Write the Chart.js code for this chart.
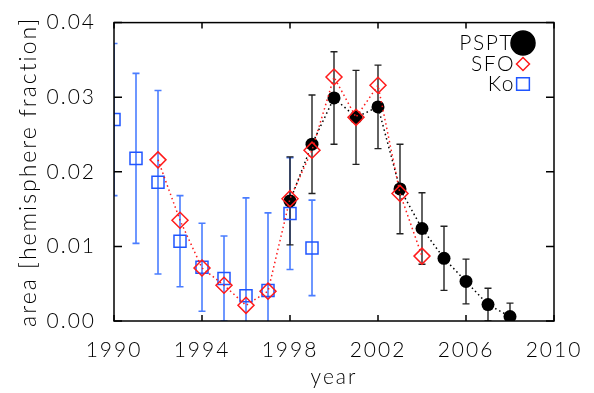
<!DOCTYPE html>
<html>
<head>
<meta charset="utf-8">
<script src="https://cdn.jsdelivr.net/npm/chart.js@4/dist/chart.umd.min.js"></script>
<style>
  html, body { margin: 0; padding: 0; background: #fff; }
  #wrap { width: 594px; height: 393px; }
</style>
</head>
<body>
<div id="wrap"><canvas id="chart" width="594" height="393"></canvas></div>
<script>
// Data
const psptYears = [1998, 1999, 2000, 2001, 2002, 2003, 2004, 2005, 2006, 2007, 2008];
const psptArea = [0.0161, 0.0237, 0.0299, 0.0273, 0.0287, 0.0177, 0.0124, 0.0084, 0.0053, 0.0022, 0.0006];
const psptErr = [0.0059, 0.0066, 0.0062, 0.0063, 0.0056, 0.0060, 0.0048, 0.0043, 0.0030, 0.0022, 0.0018];

const sfoYears = [1992, 1993, 1994, 1995, 1996, 1997, 1998, 1999, 2000, 2001, 2002, 2003, 2004];
const sfoArea = [0.0216, 0.0135, 0.0071, 0.0048, 0.0021, 0.0040, 0.0164, 0.0229, 0.0327, 0.0273, 0.0316, 0.0171, 0.0087];

const koYears = [1990, 1991, 1992, 1993, 1994, 1995, 1996, 1997, 1998, 1999];
const koArea = [0.0270, 0.0218, 0.0186, 0.0107, 0.0072, 0.0057, 0.0034, 0.0041, 0.0144, 0.0098];
const koErr = [0.0102, 0.0114, 0.0123, 0.0061, 0.0059, 0.0057, 0.0131, 0.0104, 0.0075, 0.0064];

const xTicks = [1990, 1994, 1998, 2002, 2006, 2010];
const yTicks = [0.00, 0.01, 0.02, 0.03, 0.04];

const FONT = "Lato, 'DejaVu Sans', sans-serif";
const BLUE = "#1f55ff";
const BLUE_ERR = "#4a7dff";
const RED = "#ff1a1a";

function pts(xs, ys) {
  return xs.map((x, i) => ({ x: x, y: ys[i] }));
}

// wide, airy lettering like the original
const spacing = {
  id: "spacing",
  beforeDraw(chart) {
    chart.ctx.letterSpacing = "2px";
  }
};

// error bars, drawn through the scales
const errorBars = {
  id: "errorBars",
  beforeDatasetsDraw(chart) {
    const { ctx, chartArea, scales: { x, y } } = chart;
    ctx.save();
    ctx.beginPath();
    ctx.rect(chartArea.left, chartArea.top - 1, chartArea.right - chartArea.left, chartArea.bottom - chartArea.top + 1);
    ctx.clip();
    const sets = [
      { xs: koYears, ys: koArea, es: koErr, color: BLUE_ERR, w: 1.6 },
      { xs: psptYears, ys: psptArea, es: psptErr, color: "#222", w: 1.4 }
    ];
    sets.forEach(s => {
      ctx.strokeStyle = s.color;
      ctx.lineWidth = s.w;
      s.xs.forEach((yr, i) => {
        const px = x.getPixelForValue(yr);
        const top = y.getPixelForValue(s.ys[i] + s.es[i]);
        const bot = y.getPixelForValue(s.ys[i] - s.es[i]);
        ctx.beginPath();
        ctx.moveTo(px, top); ctx.lineTo(px, bot);
        ctx.moveTo(px - 3.5, top); ctx.lineTo(px + 3.5, top);
        ctx.moveTo(px - 3.5, bot); ctx.lineTo(px + 3.5, bot);
        ctx.stroke();
      });
    });
    ctx.restore();
  }
};

// frame with inward ticks on all four sides, plus the legend
const frame = {
  id: "frame",
  afterDraw(chart) {
    const { ctx, chartArea: a, scales: { x, y } } = chart;
    ctx.save();
    ctx.strokeStyle = "#000";
    ctx.lineWidth = 1.5;
    ctx.strokeRect(a.left, a.top, a.right - a.left, a.bottom - a.top);
    ctx.beginPath();
    xTicks.forEach(t => {
      const px = x.getPixelForValue(t);
      ctx.moveTo(px, a.bottom); ctx.lineTo(px, a.bottom - 6);
      ctx.moveTo(px, a.top); ctx.lineTo(px, a.top + 6);
    });
    yTicks.forEach(t => {
      const py = y.getPixelForValue(t);
      ctx.moveTo(a.left, py); ctx.lineTo(a.left + 8, py);
      ctx.moveTo(a.right, py); ctx.lineTo(a.right - 8, py);
    });
    ctx.stroke();

    // legend
    const lx = 523;
    const rows = [
      { label: "PSPT", y: 43, style: "circle", r: 12, fill: "#000", stroke: "#000" },
      { label: "SFO", y: 64, style: "rectRot", r: 6.5, fill: "rgba(0,0,0,0)", stroke: RED },
      { label: "Ko", y: 84, style: "rect", r: 9, fill: "rgba(0,0,0,0)", stroke: BLUE }
    ];
    ctx.font = "300 21px " + FONT;
    ctx.letterSpacing = "1.5px";
    ctx.textAlign = "right";
    ctx.textBaseline = "middle";
    rows.forEach(r => {
      ctx.fillStyle = "#000";
      ctx.fillText(r.label, lx - (r.style === "circle" ? 10 : 8), r.y);
      ctx.fillStyle = r.fill;
      ctx.strokeStyle = r.stroke;
      ctx.lineWidth = 1.5;
      Chart.helpers.drawPoint(ctx, { pointStyle: r.style, radius: r.r, rotation: 0, borderWidth: 1.5 }, lx, r.y);
    });
    ctx.restore();
  }
};

new Chart(document.getElementById("chart"), {
  type: "scatter",
  data: {
    datasets: [
      {
        label: "SFO",
        data: pts(sfoYears, sfoArea),
        showLine: true,
        borderColor: RED,
        borderWidth: 1.5,
        borderDash: [1.5, 3],
        pointStyle: "rectRot",
        pointRadius: 8,
        pointBorderWidth: 1.5,
        pointBorderColor: RED,
        pointBackgroundColor: "rgba(0,0,0,0)",
        clip: false
      },
      {
        label: "PSPT",
        data: pts(psptYears, psptArea),
        showLine: true,
        borderColor: "#000",
        borderWidth: 1.5,
        borderDash: [1.5, 3],
        pointStyle: "circle",
        pointRadius: 6.5,
        pointBorderWidth: 0,
        pointBackgroundColor: "#000",
        clip: 0
      },
      {
        label: "Ko",
        data: pts(koYears, koArea),
        showLine: false,
        pointStyle: "rect",
        pointRadius: 8.5,
        pointBorderWidth: 1.5,
        pointBorderColor: BLUE,
        pointBackgroundColor: "rgba(0,0,0,0)",
        clip: 0
      }
    ]
  },
  options: {
    responsive: false,
    animation: false,
    layout: { padding: { left: 0, right: 40, top: 10, bottom: 0 } },
    plugins: { legend: { display: false }, tooltip: { enabled: false } },
    scales: {
      x: {
        type: "linear",
        min: 1990,
        max: 2010,
        afterBuildTicks: s => { s.ticks = xTicks.map(v => ({ value: v })); },
        afterFit: s => { s.height = 72; },
        grid: { display: false },
        border: { display: false },
        ticks: {
          color: "#000",
          font: { family: FONT, size: 21, weight: "300" },
          padding: 9,
          maxRotation: 0,
          autoSkip: false,
          callback: v => String(v)
        },
        title: {
          display: true,
          text: "year",
          color: "#000",
          font: { family: FONT, size: 21, weight: "300" },
          padding: { top: 0, bottom: 3 }
        }
      },
      y: {
        min: 0,
        max: 0.04,
        afterBuildTicks: s => { s.ticks = yTicks.map(v => ({ value: v })); },
        afterFit: s => { s.width = 114; },
        grid: { display: false },
        border: { display: false },
        ticks: {
          color: "#000",
          font: { family: FONT, size: 21, weight: "300" },
          padding: 10,
          callback: v => v.toFixed(2)
        },
        title: {
          display: true,
          text: "area [hemisphere fraction]",
          color: "#000",
          font: { family: FONT, size: 23, weight: "300" },
          padding: { top: 15, bottom: 0 }
        }
      }
    }
  },
  plugins: [spacing, errorBars, frame]
});
</script>
</body>
</html>
